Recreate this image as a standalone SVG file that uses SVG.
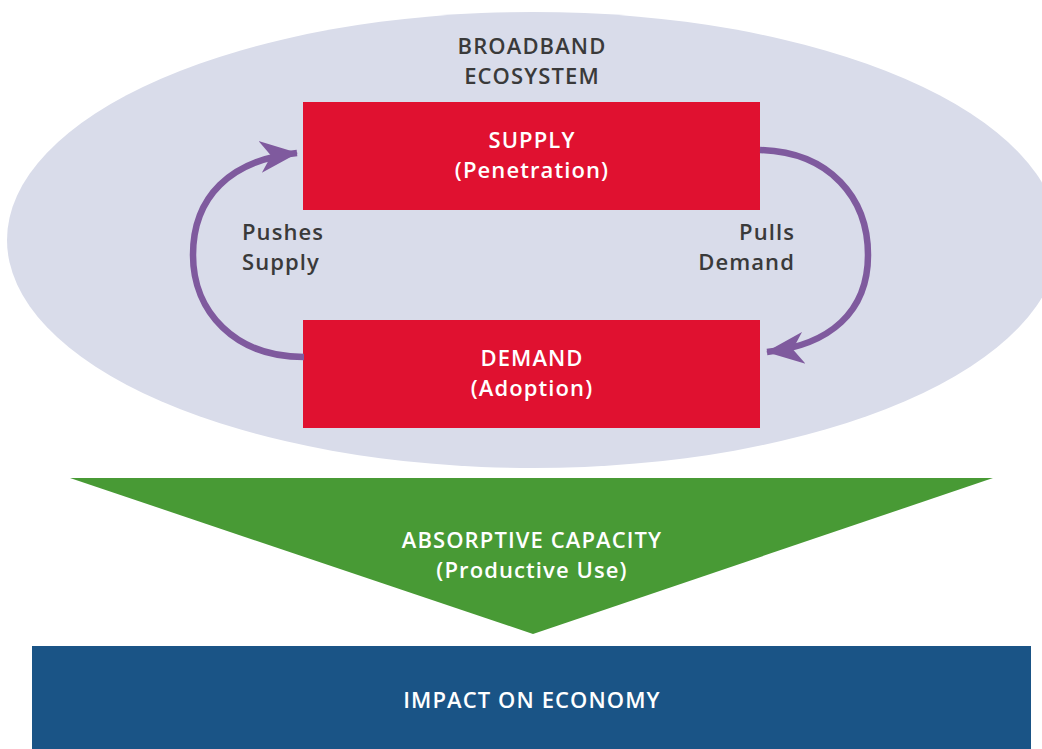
<svg xmlns="http://www.w3.org/2000/svg" width="1042" height="749" viewBox="0 0 1042 749">
<defs>
<style>
.lbl{font-family:"Open Sans","Liberation Sans",sans-serif;font-size:22px;font-weight:600;letter-spacing:1.1px}
.dark{fill:#3a3a3a}
.white{fill:#ffffff}
.red{fill:#e01130}
.conn{fill:none;stroke:#7f5a9e;stroke-width:6.5}
</style>
<marker id="ah" markerUnits="userSpaceOnUse" markerWidth="40" markerHeight="40" viewBox="0 0 40 40" refX="37" refY="20" orient="auto">
<path d="M0,4 L38,20 L0,36 L11,20 Z" fill="#7f5a9e"/>
</marker>
</defs>
<rect width="1042" height="749" fill="#ffffff"/>
<g id="ecosystem">
<ellipse cx="533" cy="240" rx="526" ry="228" fill="#d9dcea"/>
<text class="lbl dark" x="532" y="54" text-anchor="middle">BROADBAND</text>
<text class="lbl dark" x="532" y="84" text-anchor="middle">ECOSYSTEM</text>
</g>
<g id="supply">
<rect class="red" x="303" y="102" width="457" height="108"/>
<text class="lbl white" x="532" y="148" text-anchor="middle">SUPPLY</text>
<text class="lbl white" x="532" y="178" text-anchor="middle">(Penetration)</text>
</g>
<g id="demand">
<rect class="red" x="303" y="320" width="457" height="108"/>
<text class="lbl white" x="532" y="366" text-anchor="middle">DEMAND</text>
<text class="lbl white" x="532" y="396" text-anchor="middle">(Adoption)</text>
</g>
<g id="connectors">
<path class="conn" d="M304,357 C235,357 193,312 193,255 C193,197 230,160 297,153" marker-end="url(#ah)"/>
<path class="conn" d="M760,150 C830,152 868,198 868,255 C868,312 830,345 767,352" marker-end="url(#ah)"/>
<text class="lbl dark" x="242" y="240">Pushes</text>
<text class="lbl dark" x="242" y="270">Supply</text>
<text class="lbl dark" x="795" y="240" text-anchor="end">Pulls</text>
<text class="lbl dark" x="795" y="270" text-anchor="end">Demand</text>
</g>
<g id="absorptive">
<polygon points="70,478 993,478 533,634" fill="#489a35"/>
<text class="lbl white" x="532" y="548" text-anchor="middle">ABSORPTIVE CAPACITY</text>
<text class="lbl white" x="532" y="578" text-anchor="middle">(Productive Use)</text>
</g>
<g id="impact">
<rect x="32" y="646" width="999" height="103" fill="#1a5486"/>
<text class="lbl white" x="532" y="708" text-anchor="middle">IMPACT ON ECONOMY</text>
</g>
</svg>
